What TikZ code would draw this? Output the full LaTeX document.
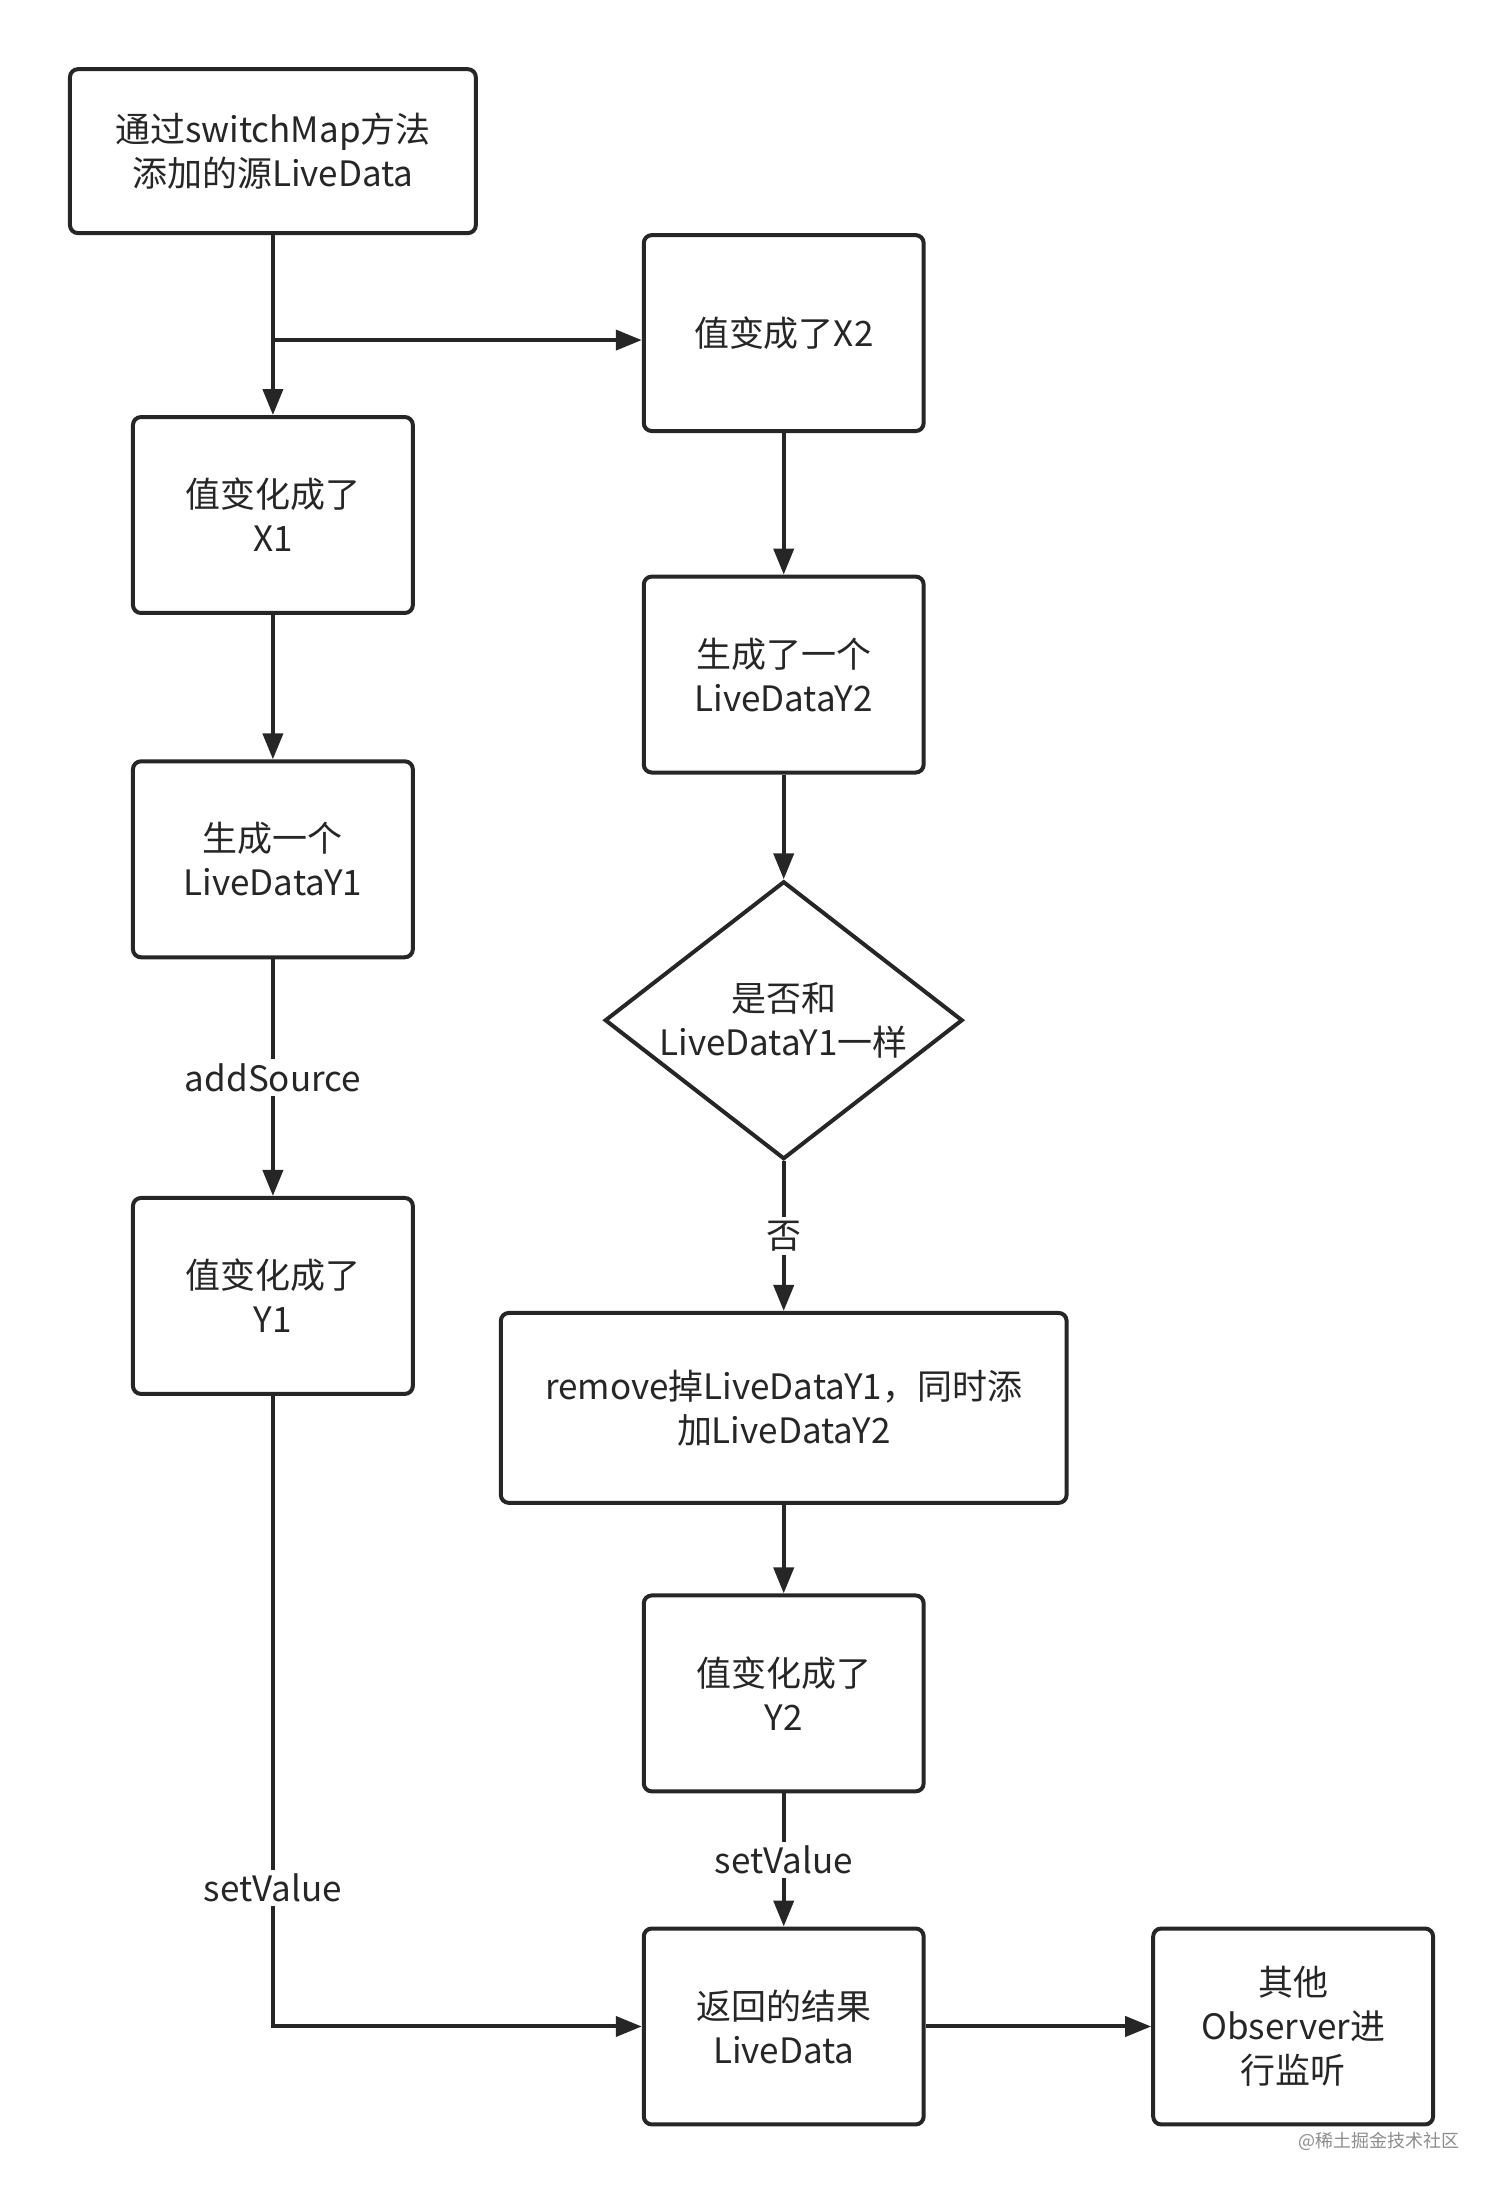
\documentclass[tikz,border=0pt]{standalone}
\usepackage{fontspec}
\setmainfont{Noto Sans CJK SC}
\usetikzlibrary{shapes.geometric,arrows.meta}

\tikzset{
  flowbox/.style={draw, line width=2pt, rounded corners=4pt, align=center,
    minimum width=140pt, minimum height=98pt, font=\fontsize{17.5}{22}\selectfont},
  decide/.style={draw, diamond, line width=2pt, aspect=1.29, minimum width=179pt,
    minimum height=139pt, inner sep=0pt, align=center, font=\fontsize{17.5}{22}\selectfont},
  flow/.style={line width=2pt, color=black!85, -{Triangle[length=13pt,width=10pt]}},
  edgelabel/.style={fill=white, inner sep=2pt, font=\fontsize{17.5}{22}\selectfont}
}

\begin{document}
\begin{tikzpicture}[x=0.7pt,y=-0.7pt,color=black!85]
\useasboundingbox (0,0) rectangle (1080,1577);

\node[flowbox, minimum width=203pt, minimum height=82pt] (source) at (195,108) {通过switchMap方法\\添加的源LiveData};
\node[flowbox] (x1) at (195,368) {值变化成了\\X1};
\node[flowbox] (geny1) at (195,614) {生成一个\\LiveDataY1};
\node[flowbox] (y1) at (195,926) {值变化成了\\Y1};

\node[flowbox] (x2) at (560,238) {值变成了X2};
\node[flowbox] (geny2) at (560,482) {生成了一个\\LiveDataY2};
\node[decide] (same) at (560,729) {是否和\\LiveDataY1一样};
\node[flowbox, minimum width=283pt, minimum height=95pt] (swap) at (560,1006) {remove掉LiveDataY1，同时添\\加LiveDataY2};
\node[flowbox] (y2) at (560,1210) {值变化成了\\Y2};
\node[flowbox] (result) at (560,1448) {返回的结果\\LiveData};
\node[flowbox] (other) at (924,1448) {其他\\Observer进\\行监听};

\coordinate (fork) at (195,243);
\coordinate (bend) at (195,1448);

\draw[flow] (source) -- (x1);
\draw[flow] (fork) -- (fork -| x2.west);
\draw[flow] (x1) -- (geny1);
\draw[flow] (geny1) -- node[edgelabel] {addSource} (y1);
\draw[flow] (x2) -- (geny2);
\draw[flow] (geny2) -- (same);
\draw[flow] (same) -- node[edgelabel] {否} (swap);
\draw[flow] (swap) -- (y2);
\draw[flow] (y2) -- node[edgelabel] {setValue} (result);
\draw[flow] (y1) -- node[edgelabel, pos=0.78] {setValue} (bend) -- (result);
\draw[flow] (result) -- (other);

\node[text=black!45, font=\fontsize{9}{10}\selectfont] (mark) at (985,1530) {@稀土掘金技术社区};
\end{tikzpicture}
\end{document}
